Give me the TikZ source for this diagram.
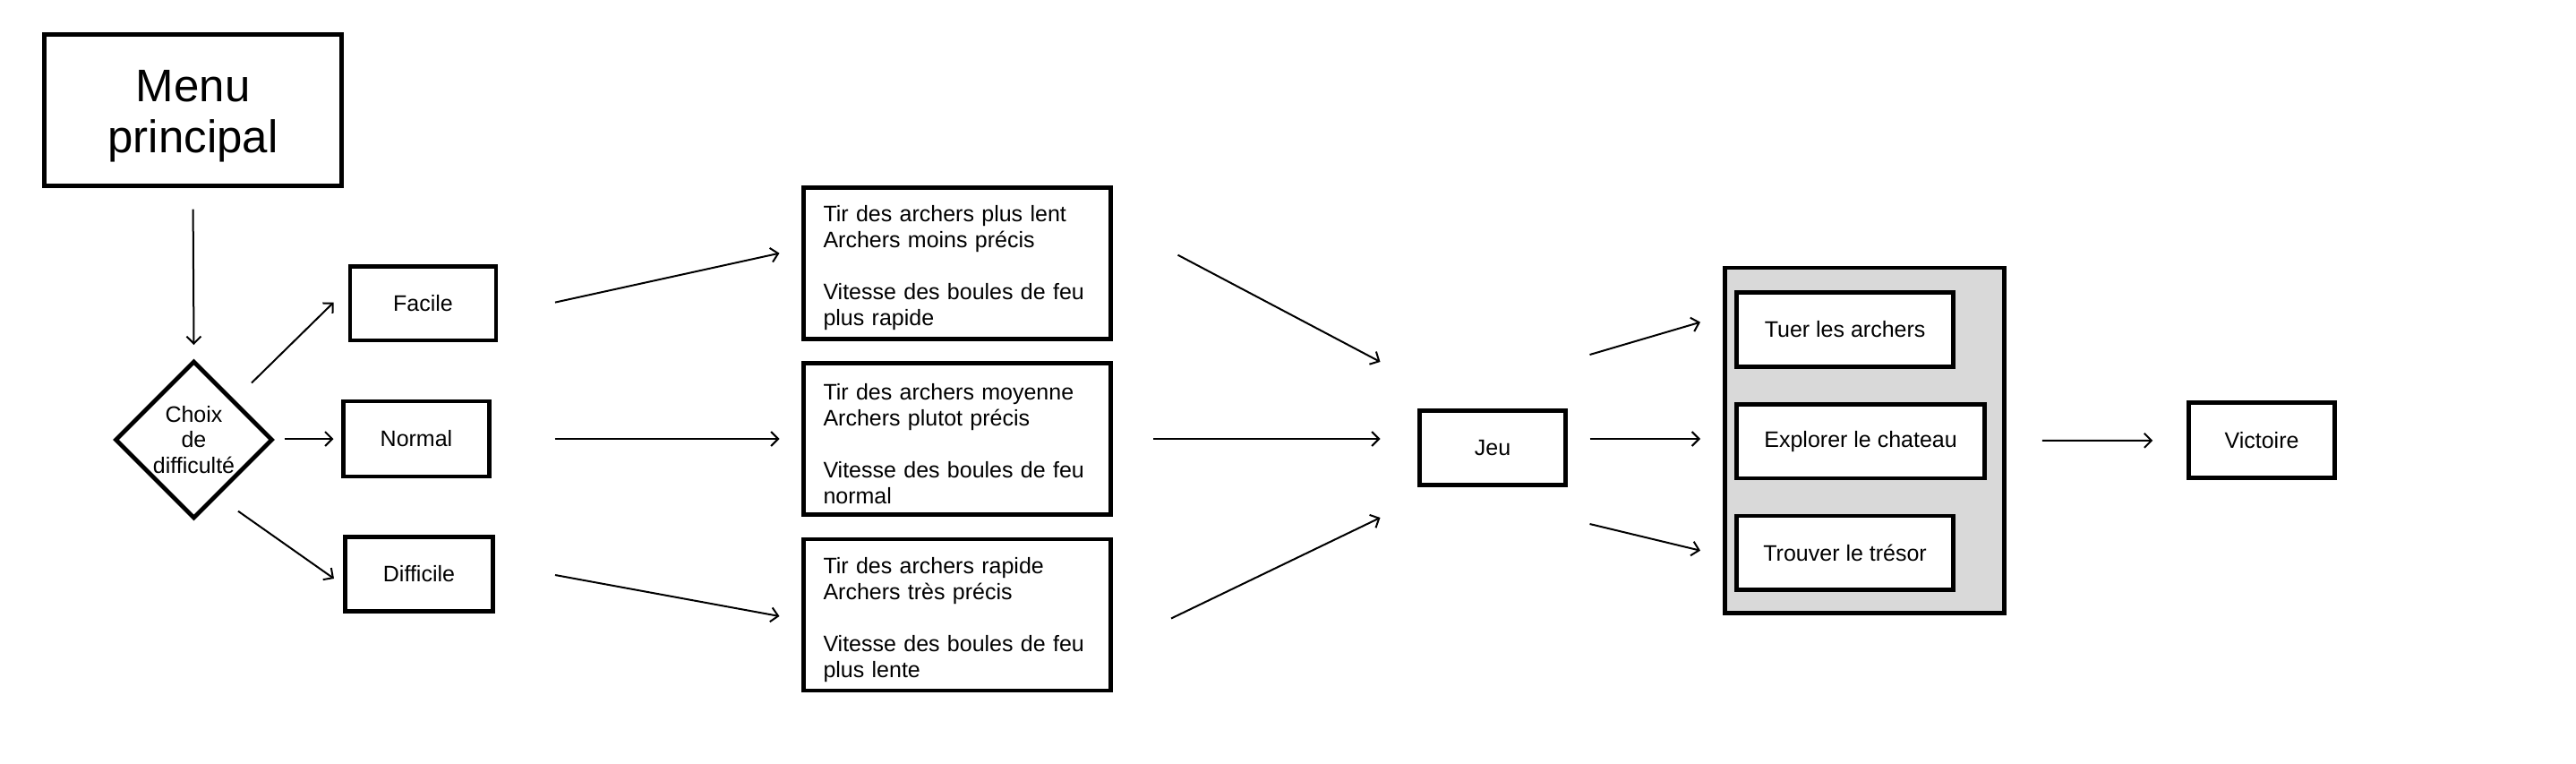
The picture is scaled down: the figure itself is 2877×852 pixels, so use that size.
\documentclass[tikz,border=0pt]{standalone}
\usepackage{fontspec}
\setmainfont{Liberation Sans}
\usetikzlibrary{arrows.meta,shapes.geometric}
\definecolor{grpgray}{HTML}{D9D9D9}
\tikzset{
  box/.style={draw, line width=4.7pt, inner sep=0pt, outer sep=0pt, fill=white,
    font=\fontsize{25}{29}\selectfont},
  infobox/.style={box, align=left, text width=299pt, inner xsep=22pt,
    minimum height=169pt},
  taskbox/.style={box, align=left, inner xsep=26pt, minimum height=82.6pt},
  arr/.style={line width=2pt, -{Straight Barb[length=8pt,width=16pt]}},
}
\begin{document}
\begin{tikzpicture}[x=1pt,y=-1pt]
\useasboundingbox (0,0) rectangle (2877,852);
% left part
\node[box, minimum width=332pt, minimum height=169pt, align=center,
  font=\fontsize{51}{57}\selectfont] (menu) at (215.6,123) {\rule{0pt}{48pt}Menu\\principal};
\node[draw, shape=diamond, line width=4.7pt, inner sep=0pt, outer sep=0pt,
  minimum width=174pt, minimum height=174pt] (dia) at (216.5,491) {};
\node[align=center, font=\fontsize{25}{28.5}\selectfont] (diatext) at (216.5,491)
  {Choix\\de\\difficulté};
\node[box, minimum width=163pt, minimum height=82.5pt] (fac) at (472.5,338.6) {Facile};
\node[box, minimum width=163pt, minimum height=84pt] (nor) at (465,490) {Normal};
\node[box, minimum width=165pt, minimum height=82.5pt] (dif) at (468,641) {Difficile};
% info boxes
\node[infobox] (b1) at (1069,293.7)
  {\rule{0pt}{29pt}Tir des archers plus lent\\Archers moins précis\\[29pt]Vitesse des boules de feu\\plus rapide};
\node[infobox] (b2) at (1069,490)
  {\rule{0pt}{29pt}Tir des archers moyenne\\Archers plutot précis\\[29pt]Vitesse des boules de feu\\normal};
\node[infobox] (b3) at (1069,686.5)
  {\rule{0pt}{29pt}Tir des archers rapide\\Archers très précis\\[29pt]Vitesse des boules de feu\\plus lente};
% game
\node[box, minimum width=163pt, minimum height=82.5pt] (jeu) at (1667,500) {Jeu};
\node[draw, line width=4.7pt, fill=grpgray, inner sep=0pt, outer sep=0pt,
  minimum width=312pt, minimum height=385.5pt] (grp) at (2082.75,491.75) {};
\node[taskbox, anchor=west, minimum width=242pt] (t1) at (1939.6,368) {Tuer les archers};
\node[taskbox, anchor=west, minimum width=277pt] (t2) at (1939.6,492.7) {Explorer le chateau};
\node[taskbox, anchor=west, minimum width=242pt] (t3) at (1939.6,617.4) {Trouver le trésor};
\node[box, minimum width=163.5pt, minimum height=84pt] (vic) at (2526,491.8) {Victoire};
% connectors
\draw[arr] ([yshift=-26pt]menu.south) -- ([yshift=19pt]dia.north);
\draw[arr] ([shift={(64.5pt,63.5pt)}]dia.center) -- ([shift={(-18.4pt,1pt)}]fac.west);
\draw[arr] ([shift={(14pt,1pt)}]dia.east) -- ([xshift=-11pt]nor.west);
\draw[arr] ([shift={(49.5pt,-79.7pt)}]dia.center) -- ([shift={(-12.5pt,-5pt)}]dif.west);
\draw[arr] ([shift={(66pt,1pt)}]fac.east) -- ([shift={(-27pt,11pt)}]b1.west);
\draw[arr] ([xshift=73pt]nor.east) -- ([xshift=-27pt]b2.west);
\draw[arr] ([shift={(69.5pt,-1pt)}]dif.east) -- ([shift={(-27pt,-1.5pt)}]b3.west);
\draw[arr] ([shift={(75pt,9pt)}]b1.east) -- ([shift={(-44pt,96pt)}]jeu.west);
\draw[arr] ([xshift=47.5pt]b2.east) -- ([shift={(-44pt,10pt)}]jeu.west);
\draw[arr] ([shift={(67.5pt,-4pt)}]b3.east) -- ([shift={(-44pt,-78pt)}]jeu.west);
\draw[arr] ([shift={(27pt,104pt)}]jeu.east) -- ([shift={(-40.6pt,8.3pt)}]t1.west);
\draw[arr] ([shift={(27pt,10pt)}]jeu.east) -- ([shift={(-40.6pt,2.7pt)}]t2.west);
\draw[arr] ([shift={(27pt,-85pt)}]jeu.east) -- ([shift={(-40.6pt,2.7pt)}]t3.west);
\draw[arr] ([xshift=42pt]grp.east) -- ([xshift=-40pt]vic.west);
\end{tikzpicture}
\end{document}
